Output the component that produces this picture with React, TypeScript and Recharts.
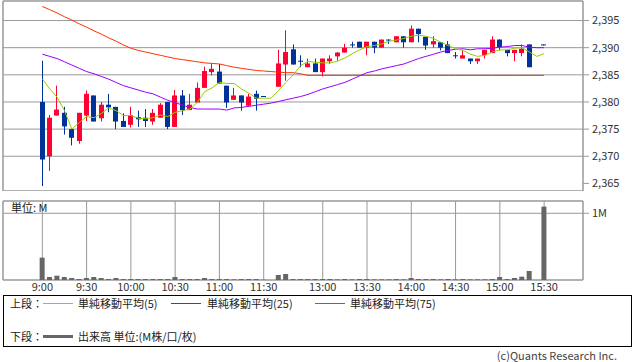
import { Bar, CartesianGrid, ComposedChart, Line, ReferenceArea, XAxis, YAxis } from 'recharts'

// 5-minute slots: 0 = 9:00 ... 30 = 11:30, 31 = lunch gap, 32 = 12:30 ... 68 = 15:30
const timeLabels = ['9:00', '9:30', '10:00', '10:30', '11:00', '11:30', '13:00', '13:30', '14:00', '14:30', '15:00', '15:30']
const tickSlots = [0, 6, 12, 18, 24, 30, 38, 44, 50, 56, 62, 68]
const priceTicks = [2365, 2370, 2375, 2380, 2385, 2390, 2395]

const opens = [
  2380.0, 2370.0, 2377.5, 2378.0, 2375.0, 2372.8, 2377.5, 2381.2, 2377.0, 2379.5,
  2379.1, 2376.5, 2375.8, 2377.2, 2377.1, 2376.4, 2377.1, 2380.0, 2375.4, 2381.2,
  2378.5, 2379.9, 2382.6, 2385.5, 2385.6, 2383.0, 2380.4, 2381.2, 2379.3, 2381.5,
  2381.1, null, 2382.8, 2386.9, 2389.7, 2387.6, 2386.4, 2387.1, 2385.5, 2387.5,
  2388.4, 2389.1, 2390.6, 2391.1, 2390.0, 2391.1, 2390.0, 2391.5, 2391.0, 2392.1,
  2391.0, 2393.5, 2392.0, 2390.6, 2391.0, 2390.6, 2388.6, 2388.0, 2388.0, 2387.5,
  2388.6, 2389.0, 2391.5, 2389.6, 2389.0, 2389.0, 2390.6, null, 2390.6,
]
const highs = [
  2387.6, 2377.6, 2383.0, 2379.1, 2375.2, 2378.0, 2382.1, 2381.2, 2380.0, 2381.5,
  2379.1, 2377.9, 2379.1, 2378.4, 2378.7, 2378.7, 2379.8, 2380.0, 2382.2, 2382.2,
  2381.5, 2383.6, 2386.5, 2387.0, 2387.0, 2383.0, 2382.6, 2381.2, 2381.5, 2382.1,
  2381.1, null, 2389.6, 2393.2, 2390.6, 2388.6, 2388.0, 2388.0, 2388.0, 2388.6,
  2389.2, 2390.7, 2391.1, 2391.1, 2391.1, 2391.1, 2391.5, 2391.5, 2392.1, 2392.1,
  2394.1, 2393.5, 2392.0, 2392.1, 2391.0, 2391.2, 2389.2, 2389.5, 2388.0, 2388.0,
  2389.6, 2392.1, 2391.5, 2389.6, 2389.6, 2390.6, 2390.6, null, 2390.6,
]
const lows = [
  2364.5, 2367.3, 2377.5, 2374.0, 2372.0, 2372.3, 2376.5, 2376.4, 2376.4, 2378.1,
  2375.0, 2375.4, 2375.3, 2375.4, 2375.4, 2375.8, 2377.1, 2375.0, 2375.4, 2377.6,
  2378.5, 2379.9, 2382.6, 2384.9, 2383.4, 2378.9, 2380.4, 2378.4, 2379.3, 2378.4,
  2381.0, null, 2382.8, 2383.9, 2386.9, 2386.4, 2386.4, 2385.5, 2384.7, 2387.0,
  2387.6, 2389.1, 2390.0, 2390.0, 2388.6, 2389.0, 2390.0, 2390.7, 2391.0, 2390.0,
  2391.0, 2391.0, 2389.6, 2390.0, 2389.5, 2389.0, 2388.0, 2388.0, 2387.0, 2387.0,
  2388.0, 2389.0, 2389.5, 2388.4, 2387.5, 2388.4, 2386.4, null, 2390.5,
]
const closes = [
  2369.4, 2377.1, 2378.6, 2375.5, 2373.4, 2378.0, 2381.5, 2376.4, 2379.5, 2379.0,
  2376.4, 2375.4, 2377.6, 2376.8, 2376.5, 2378.0, 2379.5, 2375.4, 2381.2, 2378.5,
  2379.5, 2382.6, 2385.7, 2386.1, 2383.4, 2379.9, 2381.2, 2379.9, 2381.0, 2380.6,
  2381.0, null, 2387.1, 2389.2, 2386.9, 2387.5, 2387.1, 2385.5, 2388.0, 2388.0,
  2389.1, 2390.0, 2390.5, 2390.0, 2391.1, 2390.0, 2391.5, 2391.4, 2392.1, 2391.0,
  2393.5, 2392.5, 2390.4, 2391.2, 2390.0, 2389.0, 2388.5, 2388.6, 2387.5, 2388.0,
  2389.6, 2391.5, 2390.1, 2389.0, 2389.6, 2389.8, 2386.4, null, 2390.5,
]
// volume in millions
const volumes = [
  0.335, 0.045, 0.065, 0.045, 0.03, 0.015, 0.03, 0.045, 0.03, 0.015,
  0.03, 0.015, 0.015, 0.015, 0.015, 0.015, 0.015, 0.015, 0.045, 0.015,
  0.015, 0.015, 0.03, 0.015, 0.015, 0.015, 0.01, 0.015, 0.015, 0.015,
  0.005, null, 0.075, 0.09, 0.015, 0.015, 0.015, 0.015, 0.015, 0.015,
  0.01, 0.015, 0.01, 0.015, 0.015, 0.01, 0.01, 0.01, 0.015, 0.01,
  0.03, 0.015, 0.015, 0.015, 0.01, 0.015, 0.01, 0.015, 0.01, 0.01,
  0.01, 0.015, 0.045, 0.015, 0.03, 0.05, 0.135, null, 1.1,
]
const ma5 = [
  2384.3, 2382.4, 2380.9, 2378.4, 2375.0, 2376.2, 2377.3, 2377.1, 2377.9, 2378.9,
  2378.4, 2377.5, 2377.5, 2377.0, 2376.9, 2377.1, 2377.6, 2377.3, 2378.1, 2378.4,
  2378.7, 2379.9, 2381.9, 2382.6, 2383.6, 2383.4, 2383.4, 2382.4, 2381.6, 2380.7,
  2380.7, 2380.7, 2382.1, 2383.6, 2385.0, 2386.7, 2387.5, 2387.3, 2387.2, 2387.2,
  2387.5, 2388.1, 2388.9, 2389.6, 2390.2, 2390.4, 2390.7, 2391.2, 2391.4, 2391.7,
  2392.1, 2392.3, 2392.1, 2391.7, 2391.0, 2390.4, 2389.8, 2389.5, 2388.8, 2388.4,
  2388.6, 2389.2, 2389.6, 2389.6, 2389.9, 2390.0, 2389.2, 2388.4, 2388.9,
]
const ma25 = [
  2388.8, 2388.4, 2388.0, 2387.4, 2386.8, 2386.2, 2385.6, 2385.2, 2384.7, 2384.2,
  2383.6, 2383.0, 2382.6, 2382.2, 2381.8, 2381.5, 2380.9, 2380.3, 2379.9, 2379.4,
  2379.0, 2378.7, 2378.7, 2378.7, 2378.7, 2378.5, 2378.9, 2379.0, 2379.2, 2379.4,
  2379.6, 2379.8, 2380.1, 2380.4, 2380.7, 2381.0, 2381.4, 2381.9, 2382.4, 2382.8,
  2383.2, 2383.6, 2384.2, 2384.8, 2385.4, 2385.7, 2386.1, 2386.4, 2386.7, 2387.0,
  2387.5, 2388.0, 2388.4, 2388.8, 2389.2, 2389.5, 2389.7, 2389.8, 2389.6, 2389.8,
  2389.8, 2389.9, 2390.1, 2390.2, 2390.4, 2390.4, 2390.1, 2390.0, 2390.0,
]
const ma75 = [
  2397.6, 2397.0, 2396.4, 2395.7, 2395.1, 2394.4, 2393.8, 2393.1, 2392.5, 2391.8,
  2391.2, 2390.5, 2389.9, 2389.5, 2389.2, 2388.9, 2388.6, 2388.3, 2388.0, 2387.8,
  2387.6, 2387.4, 2387.2, 2387.1, 2387.0, 2386.7, 2386.4, 2386.2, 2386.0, 2385.8,
  2385.7, 2385.6, 2385.5, 2385.4, 2385.4, 2385.2, 2384.9, 2384.9, 2384.9, 2384.9,
  2384.9, 2384.9, 2384.9, 2384.9, 2384.9, 2384.9, 2384.9, 2384.9, 2384.9, 2384.9,
  2384.9, 2384.9, 2384.9, 2384.9, 2384.9, 2384.9, 2384.9, 2384.9, 2384.9, 2384.9,
  2384.9, 2384.9, 2384.9, 2384.9, 2384.9, 2384.9, 2384.9, 2384.9, 2384.9,
]

const rows = opens.map((open, i) => ({
  slot: i,
  open,
  high: highs[i],
  low: lows[i],
  close: closes[i],
  range: open == null ? null : [lows[i], highs[i]],
  vol: volumes[i],
  ma5: ma5[i],
  ma25: ma25[i],
  ma75: ma75[i],
}))

const X_DOMAIN: [number, number] = [-5.33, 73.27]
const PRICE_DOMAIN: [number, number] = [2363.6, 2398.6]
const VOL_DOMAIN: [number, number] = [0, 1.184]
const FONT = "'Noto Sans CJK JP', 'Noto Sans', sans-serif"
const GRID = '#999'
const UP = '#ff0033'
const DOWN = '#003399'

function Candle(props: any) {
  const { x, y, width, height, payload } = props
  if (payload.open == null || x == null) return <g />
  const top = Math.min(y, y + height)
  const h = Math.abs(height)
  const span = payload.high - payload.low
  const toY = (v: number) => (span > 0 ? top + ((payload.high - v) / span) * h : top)
  const color = payload.close > payload.open ? UP : DOWN
  const cx = Math.floor(x + width / 2) + 0.5
  const bTop = toY(Math.max(payload.open, payload.close))
  const bBot = toY(Math.min(payload.open, payload.close))
  return (
    <g>
      <line x1={cx} x2={cx} y1={top} y2={top + Math.max(h, 1)} stroke={color} strokeWidth={1} />
      <rect x={cx - 2.5} y={bTop} width={5} height={Math.max(bBot - bTop, 1)} fill={color} />
    </g>
  )
}

const legendText = { position: 'absolute' as const, fontSize: 11, lineHeight: '14px', color: '#222', whiteSpace: 'nowrap' as const }

export default function App() {
  return (
    <div style={{ position: 'relative', width: 638, height: 362, background: '#fff', fontFamily: FONT }}>
      <style>{'body{margin:0}'}</style>

      <div style={{ position: 'absolute', left: 0, top: 0 }}>
        <ComposedChart width={638} height={191} data={rows} margin={{ top: 1, right: 3, bottom: 0, left: 3 }}>
          <CartesianGrid stroke={GRID} />
          <XAxis
            type="number"
            dataKey="slot"
            domain={X_DOMAIN}
            ticks={tickSlots}
            allowDataOverflow
            height={0}
            tick={false}
            tickLine={false}
            axisLine={false}
          />
          <YAxis
            orientation="right"
            type="number"
            domain={PRICE_DOMAIN}
            ticks={priceTicks}
            allowDataOverflow
            width={52}
            tickSize={6}
            tickMargin={3}
            axisLine={false}
            tickLine={{ stroke: GRID }}
            tick={{ fontSize: 11, fill: '#333', fontFamily: FONT }}
            tickFormatter={(v: number) => v.toLocaleString('en-US')}
          />
          <ReferenceArea
            x1={X_DOMAIN[0]}
            x2={X_DOMAIN[1]}
            y1={PRICE_DOMAIN[0]}
            y2={PRICE_DOMAIN[1]}
            fill="none"
            stroke={GRID}
            ifOverflow="visible"
          />
          <Bar dataKey="range" barSize={5} shape={Candle} isAnimationActive={false} />
          <Line dataKey="ma75" type="linear" stroke="#ff3300" strokeWidth={1} dot={false} connectNulls isAnimationActive={false} />
          <Line dataKey="ma25" type="linear" stroke="#9900ff" strokeWidth={1} dot={false} connectNulls isAnimationActive={false} />
          <Line dataKey="ma5" type="linear" stroke="#99cc00" strokeWidth={1} dot={false} connectNulls isAnimationActive={false} />
        </ComposedChart>
      </div>

      <div style={{ position: 'absolute', left: 0, top: 195 }}>
        <ComposedChart width={638} height={105} data={rows} margin={{ top: 6, right: 3, bottom: 0, left: 3 }}>
          <CartesianGrid stroke={GRID} />
          <XAxis
            type="number"
            dataKey="slot"
            domain={X_DOMAIN}
            ticks={tickSlots}
            interval={0}
            allowDataOverflow
            height={20}
            tickSize={0}
            tickMargin={3}
            axisLine={false}
            tickLine={false}
            tick={{ fontSize: 11, fill: '#333', fontFamily: FONT }}
            tickFormatter={(v: number) => timeLabels[tickSlots.indexOf(v)]}
          />
          <YAxis
            orientation="right"
            type="number"
            domain={VOL_DOMAIN}
            ticks={[1]}
            allowDataOverflow
            width={52}
            tickSize={6}
            tickMargin={3}
            axisLine={false}
            tickLine={{ stroke: GRID }}
            tick={{ fontSize: 11, fill: '#333', fontFamily: FONT }}
            tickFormatter={(v: number) => `${v}M`}
          />
          <ReferenceArea
            x1={X_DOMAIN[0]}
            x2={X_DOMAIN[1]}
            y1={VOL_DOMAIN[0]}
            y2={VOL_DOMAIN[1]}
            fill="none"
            stroke={GRID}
            ifOverflow="visible"
          />
          <Bar dataKey="vol" fill="#666" barSize={5} isAnimationActive={false} />
        </ComposedChart>
      </div>
      <div style={{ ...legendText, left: 11, top: 200 }}>単位: M</div>

      <div style={{ position: 'absolute', left: 3, top: 295, width: 629, height: 52, border: '1px solid #000', boxSizing: 'border-box' }} />
      <div style={{ ...legendText, left: 10, top: 296 }}>上段：</div>
      <div style={{ position: 'absolute', left: 43, top: 303, width: 30, height: 1, background: '#99cc00' }} />
      <div style={{ ...legendText, left: 78, top: 296 }}>単純移動平均(5)</div>
      <div style={{ position: 'absolute', left: 171, top: 303, width: 30, height: 1, background: '#9900ff' }} />
      <div style={{ ...legendText, left: 207, top: 296 }}>単純移動平均(25)</div>
      <div style={{ position: 'absolute', left: 315, top: 303, width: 30, height: 1, background: '#ff3300' }} />
      <div style={{ ...legendText, left: 350, top: 296 }}>単純移動平均(75)</div>
      <div style={{ ...legendText, left: 10, top: 329 }}>下段：</div>
      <div style={{ position: 'absolute', left: 43, top: 335, width: 30, height: 3, background: '#666' }} />
      <div style={{ ...legendText, left: 78, top: 329 }}>出来高 単位:(M株/口/枚)</div>

      <div style={{ ...legendText, right: 21, top: 348, color: '#444' }}>(c)Quants Research Inc.</div>
    </div>
  )
}
